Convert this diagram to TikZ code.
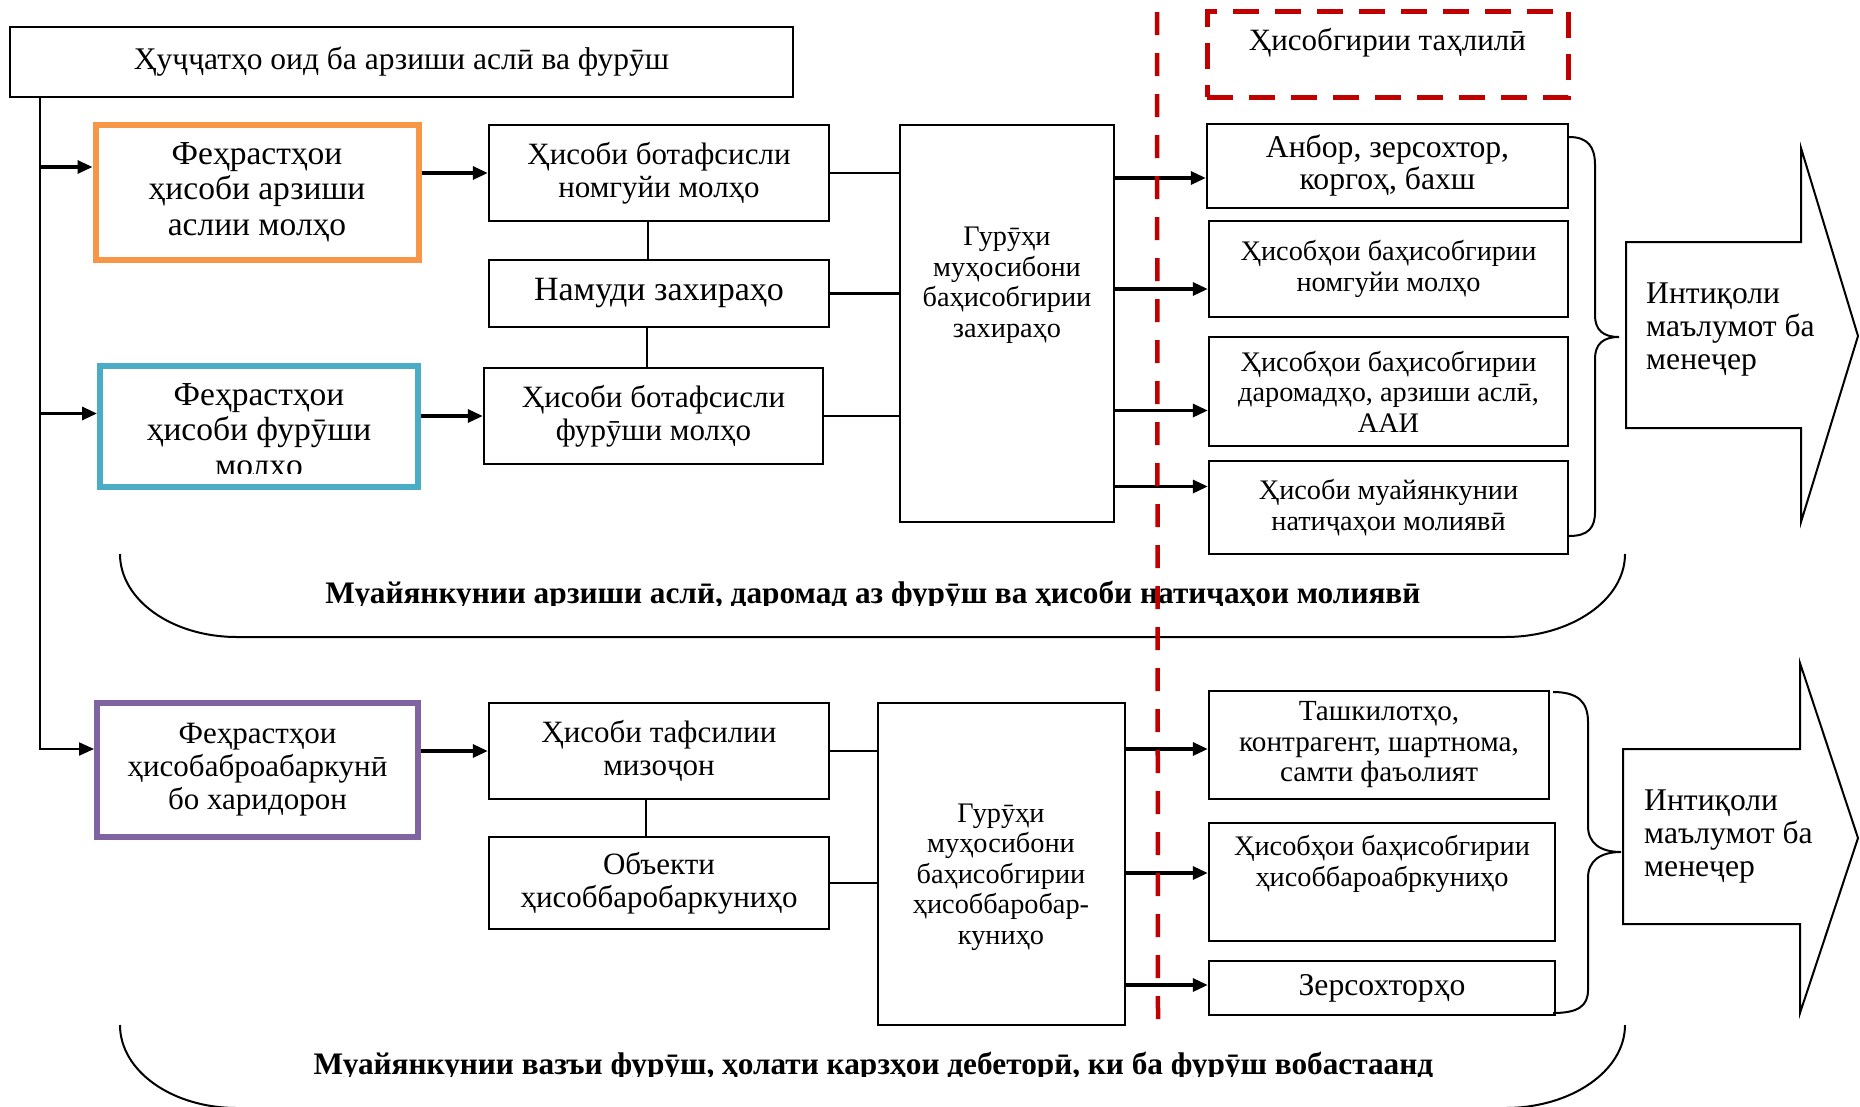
\documentclass[tikz,border=0pt]{standalone}
\usepackage{fontspec}
\setmainfont{Liberation Serif}
\usetikzlibrary{arrows.meta}
\definecolor{boxorange}{HTML}{F79646}
\definecolor{boxblue}{HTML}{4BACC6}
\definecolor{boxpurple}{HTML}{8064A2}
\definecolor{dashred}{HTML}{C00000}
\begin{document}
\begin{tikzpicture}[x=1pt, y=-1pt,
            every node/.style={inner sep=0pt, align=center, font=\fontsize{31}{33}\selectfont},
            box/.style={draw=black, line width=2.4pt},
            link/.style={draw=black, line width=2.2pt},
            arrow/.style={draw=black, line width=3.2pt, -{Triangle[length=15pt, width=13pt]}}]
            \tikzset{colour box/.style={draw=#1, line width=6pt, font=\fontsize{33.5}{35.5}\selectfont}}
            \tikzset{small text/.style={font=\fontsize{28.3}{30.5}\selectfont}}
            \tikzset{bold text/.style={anchor=base, font=\fontsize{31.3}{33}\selectfont\bfseries}}
            \useasboundingbox (0,0) rectangle (1860,1106);

            \node [box] (top) at (401.5,62) [minimum width=783pt, minimum height=70pt, font=\fontsize{31.5}{33}\selectfont] {Ҳуҷҷатҳо оид ба арзиши аслӣ ва фурӯш};
            \node [colour box=boxorange, minimum width=323pt, minimum height=135pt] (f1) at (257,192) {Феҳрастҳои\\ ҳисоби арзиши\\ аслии молҳо};
            \node [colour box=boxblue, minimum width=318pt, minimum height=121pt] (f2) at (259,426.5) {};
            \begin{scope}
              \clip (100,366) rectangle (418,473);
              \node [font=\fontsize{33.5}{35.5}\selectfont] (f2t) at (259,433) {Феҳрастҳои\\ ҳисоби фурӯши\\ молҳо};
            \end{scope}
            \node [colour box=boxpurple, minimum width=321pt, minimum height=134pt, font=\fontsize{31}{33}\selectfont] (f3) at (257.5,770) {Феҳрастҳои\\ ҳисобаброабаркунӣ\\ бо харидорон};

            \node [box, minimum width=340pt, minimum height=96pt] (b1) at (659,173) {Ҳисоби ботафсисли\\ номгуйи молҳо};
            \node [box, minimum width=340pt, minimum height=67pt, font=\fontsize{34}{35}\selectfont] (b2) at (659,293.5) {Намуди захираҳо};
            \node [box, minimum width=339pt, minimum height=96pt] (b3) at (653.5,416) {Ҳисоби ботафсисли\\ фурӯши молҳо};
            \node [box, minimum width=340pt, minimum height=96pt] (b4) at (659,751) {Ҳисоби тафсилии\\ мизоҷон};
            \node [box, minimum width=340pt, minimum height=92pt] (b5) at (659,883) {Объекти\\ ҳисоббаробаркуниҳо};

            \node [box, minimum width=214pt, minimum height=397pt] (g1) at (1007,323.5) {};
            \node [small text] (g1t) at (1007,285) {Гурӯҳи\\ муҳосибони\\ баҳисобгирии\\ захираҳо};
            \node [box, minimum width=247pt, minimum height=322pt] (g2) at (1001.5,864) {};
            \node [small text] (g2t) at (1001,877) {Гурӯҳи\\ муҳосибони\\ баҳисобгирии\\ ҳисоббаробар-\\ куниҳо};

            \node [draw=dashred, line width=5pt, dash pattern=on 26pt off 16pt, minimum width=361pt, minimum height=86pt] (red) at (1387.5,54) {};
            \node [font=\fontsize{31}{32}\selectfont] (redt) at (1387.5,43) {Ҳисобгирии таҳлилӣ};

            \node [box, minimum width=361pt, minimum height=84pt, font=\fontsize{31.7}{32}\selectfont] (r1) at (1387.5,166) {Анбор, зерсохтор,\\ коргоҳ, бахш};
            \node [box, small text, minimum width=359pt, minimum height=96pt] (r2) at (1388.5,269) {Ҳисобҳои баҳисобгирии\\ номгуйи молҳо};
            \node [box, small text, minimum width=359pt, minimum height=109pt] (r3) at (1388.5,391.5) {Ҳисобҳои баҳисобгирии\\ даромадҳо, арзиши аслӣ,\\ ААИ};
            \node [box, small text, minimum width=359pt, minimum height=93pt] (r4) at (1388.5,507.5) {Ҳисоби муайянкунии\\ натиҷаҳои молиявӣ};
            \node [box, minimum width=340pt, minimum height=108pt, font=\fontsize{29.2}{30.5}\selectfont] (r5) at (1379,745) {Ташкилотҳо,\\ контрагент, шартнома,\\ самти фаъолият};
            \node [box, minimum width=346pt, minimum height=118pt] (r6) at (1382,882) {};
            \node [small text] (r6t) at (1382,864) {Ҳисобҳои баҳисобгирии\\ ҳисоббароабркуниҳо};
            \node [box, minimum width=346pt, minimum height=54pt, font=\fontsize{31.7}{32}\selectfont] (r7) at (1382,988) {Зерсохторҳо};

            \node [anchor=west, align=left, font=\fontsize{31.6}{33}\selectfont] (m1) at (1646,330) {Интиқоли\\ маълумот ба\\ менеҷер};
            \node [anchor=west, align=left, font=\fontsize{31.6}{33}\selectfont] (m2) at (1644,837) {Интиқоли\\ маълумот ба\\ менеҷер};

            \begin{scope}
              \clip (250,560) rectangle (1500,605);
              \node [bold text] (c1) at (873,603) {Муайянкунии арзиши аслӣ, даромад аз фурӯш ва ҳисоби натиҷаҳои молиявӣ};
            \end{scope}
            \begin{scope}
              \clip (250,1030) rectangle (1500,1076);
              \node [bold text] (c2) at (873.5,1074) {Муайянкунии вазъи фурӯш, ҳолати карзҳои дебеторӣ, ки ба фурӯш вобастаанд};
            \end{scope}

            \coordinate (s0) at ([xshift=31pt]top.south west);
            \draw [link, -{Triangle[length=15pt, width=13pt]}] (s0) |- ([yshift=21pt]f3.west);
            \draw [arrow] ([yshift=25pt]f1.west -| s0) -- ([yshift=25pt]f1.west);
            \draw [arrow] ([yshift=13pt]f2.west -| s0) -- ([yshift=13pt]f2.west);

            \draw [arrow] (f1.east |- b1) -- (b1.west);
            \draw [arrow] (f2.east |- b3) -- (b3.west);
            \draw [arrow] (f3.east |- b4) -- (b4.west);

            \draw [link] ([xshift=-11pt]b1.south) -- ([xshift=-11pt]b2.north);
            \draw [link] ([xshift=-12pt]b2.south) -- ([xshift=-12pt]b2.south |- b3.north);
            \draw [link] ([xshift=-13pt]b4.south) -- ([xshift=-13pt]b5.north);
            \foreach \b in {b1, b2, b3}
              \draw [link] (\b.east) -- (\b.east -| g1.west);
            \foreach \b in {b4, b5}
              \draw [link] (\b.east) -- (\b.east -| g2.west);

            \foreach \r/\s in {r1/-12, r2/-20, r3/-19, r4/21}
              \draw [arrow] ([yshift=\s pt]\r.west -| g1.east) -- ([yshift=\s pt]\r.west);
            \foreach \r/\s in {r5/-4, r6/9, r7/3}
              \draw [arrow] ([yshift=\s pt]\r.west -| g2.east) -- ([yshift=\s pt]\r.west);

            \draw [line width=2pt] (1569,137) .. controls (1588,137) and (1595,147) .. (1595,165) -- (1595,315) .. controls (1595,330) and (1603,337) .. (1619,337) .. controls (1603,337) and (1595,344) .. (1595,359) -- (1595,512) .. controls (1595,528) and (1588,536) .. (1569,536);
            \draw [line width=2pt] (1553,692) .. controls (1578,692) and (1588,702) .. (1588,722) -- (1588,826) .. controls (1588,843) and (1600,852) .. (1621,852) .. controls (1600,852) and (1588,861) .. (1588,878) -- (1588,990) .. controls (1588,1006) and (1578,1013) .. (1553,1013);

            \draw [line width=2pt] (1626,242) -- (1801,242) -- (1801,148) -- (1858,336) -- (1801,522) -- (1801,428) -- (1626,428) -- cycle;
            \draw [line width=2pt] (1623,749) -- (1800,749) -- (1800,663) -- (1858,838) -- (1800,1013) -- (1800,924) -- (1623,924) -- cycle;

            \draw [line width=2pt] (120,554) .. controls (120,600) and (172,637) .. (237,637) -- (1505,637) .. controls (1571,637) and (1625,600) .. (1625,554);
            \draw [line width=2pt] (120,1025) .. controls (120,1071) and (172,1108) .. (237,1108) -- (1505,1108) .. controls (1571,1108) and (1625,1071) .. (1625,1025);

            \coordinate (d1) at (1157,12);
            \coordinate (d2) at (1158,1024);
            \draw [dashred, line width=4.5pt, dash pattern=on 23pt off 18pt] (d1) -- (d2);
        \end{tikzpicture}
\end{document}
